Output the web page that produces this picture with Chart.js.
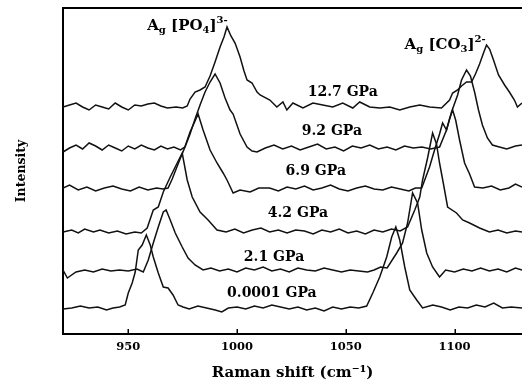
<!DOCTYPE html>
<html>
<head>
<meta charset="utf-8">
<script src="https://cdn.jsdelivr.net/npm/chart.js@4"></script>
<style>
  html, body { margin: 0; padding: 0; background: #fff; }
  canvas { display: block; }
</style>
</head>
<body>
<canvas id="c" width="522" height="383"></canvas>
<script>
// Raman spectra of the sample at increasing pressure, stacked upward.
// Each spectrum is a list of [Raman shift (cm^-1), stacked intensity (a.u.)].
const pressures = ['0.0001 GPa', '2.1 GPa', '4.2 GPa', '6.9 GPa', '9.2 GPa', '12.7 GPa'];
const xTicks = [950, 1000, 1050, 1100];

const spec0001 = [[920,25],[924,26],[928,28],[932,26],[936,27],[940,24],[943,26],[946,27],[948.6,29],[950,41],[951.8,51],[953.2,62],[954.6,84],[956.4,89],[958.3,99],[960.1,89],[961.5,77],[963.8,61],[966.1,47],[968.3,46],[970.6,39],[972.9,29],[975.2,27],[978,25],[982,28],[986,26],[990,24],[993,22],[996,26],[1000,27],[1004,25],[1008,28],[1012,26],[1016,29],[1020,27],[1024,25],[1028,27],[1032,24],[1036,26],[1040,23],[1044,27],[1048,25],[1052,27],[1056,26],[1059.6,28],[1062.4,41],[1065.6,57],[1068.8,77],[1071.1,97],[1073,107],[1074.8,94],[1077.1,67],[1079.4,44],[1082.6,34],[1085.3,26],[1090,29],[1094,27],[1098,24],[1102,27],[1106,26],[1110,29],[1114,27],[1118,31],[1122,26],[1126,27],[1131,26]];

const spec21 = [[920,64],[922,56],[926,62],[930,64],[934,62],[938,65],[942,63],[946,64],[950,63],[954,65],[956.9,62],[959.2,74],[961.5,91],[963.8,107],[966.1,122],[967.4,124],[969.3,114],[971.6,101],[974.8,87],[977.5,76],[980.7,69],[984.4,64],[988,66],[992,63],[996,65],[1000,62],[1004,66],[1008,64],[1012,67],[1016,63],[1020,65],[1024,62],[1028,66],[1032,64],[1036,63],[1040,66],[1044,64],[1048,62],[1052,64],[1056,63],[1060,62],[1063,64],[1066,67],[1069,66],[1073.4,81],[1076.1,91],[1078.4,111],[1080.7,141],[1083,131],[1084.9,104],[1087.2,81],[1089.9,67],[1093.1,57],[1095.9,64],[1100,62],[1104,65],[1108,63],[1112,66],[1116,63],[1120,65],[1124,62],[1128,66],[1131,64]];

const spec42 = [[920,102],[924,104],[927,101],[930,105],[934,102],[937,104],[941,101],[945,103],[949,100],[953,102],[956,101],[958.7,106],[961.5,124],[963.8,127],[966.1,142],[969.3,157],[972.5,171],[974.8,181],[977.1,154],[979.4,137],[983,122],[986.7,114],[990.8,104],[995,102],[999,105],[1003,101],[1007,104],[1011,106],[1015,102],[1019,104],[1023,101],[1027,104],[1031,103],[1035,100],[1039,104],[1043,102],[1047,105],[1051,101],[1055,103],[1059,100],[1063,104],[1067,102],[1071,105],[1075,103],[1078.4,107],[1081.7,124],[1084,137],[1085.3,154],[1087.6,176],[1089.9,201],[1091.7,190],[1093.1,171],[1094.9,150],[1096.8,127],[1100.9,121],[1103.7,114],[1106.9,111],[1111.5,106],[1116,102],[1120,104],[1124,101],[1128,103],[1131,102]];

const spec69 = [[920,146],[923,149],[927,144],[931,147],[935,143],[939,146],[943,148],[947,145],[951,143],[955,147],[959,144],[963,146],[966,145],[968.3,146],[970.2,155],[972.9,170],[975.7,185],[978.4,202],[980.7,213],[982.1,220],[984.4,204],[987.6,184],[990.8,171],[993.6,161],[995.4,154],[998.2,141],[1001.4,144],[1006,142],[1010,146],[1015,146],[1019,143],[1023,147],[1027,145],[1031,148],[1035,144],[1039,146],[1043,149],[1047,145],[1051,143],[1055,146],[1059,148],[1063,145],[1067,144],[1071,147],[1075,145],[1079,143],[1082,146],[1084.9,146],[1088.5,167],[1090.8,184],[1093.1,200],[1094.5,211],[1096.3,204],[1097.7,215],[1099.1,224],[1100.5,214],[1102.3,194],[1104.6,171],[1106.9,160],[1109.2,147],[1113,146],[1117,148],[1121,144],[1125,146],[1128,150],[1131,147]];

const spec92 = [[920,182],[923,186],[926,189],[929,185],[932,191],[935,188],[938,184],[941,189],[944,186],[947,183],[950,188],[953,185],[956,189],[959,186],[962,184],[965,188],[968,185],[971,187],[974,184],[976.1,187],[978.4,200],[980.7,215],[983,229],[985.3,242],[987.6,252],[989.9,260],[992.2,251],[994.5,236],[996.8,224],[998.2,220],[1001.4,200],[1004.6,187],[1006.9,183],[1009.2,182],[1013,186],[1017,189],[1021,185],[1025,188],[1029,184],[1033,187],[1037,190],[1041,185],[1045,187],[1049,183],[1053,188],[1057,186],[1061,189],[1065,185],[1069,187],[1073,184],[1077,188],[1081,186],[1085,187],[1089,185],[1093.1,187],[1096.3,204],[1098.6,222],[1101.4,239],[1103.2,254],[1105.5,264],[1107.3,258],[1109.2,242],[1111,224],[1112.8,209],[1115.1,196],[1117.4,189],[1120.6,187],[1124,185],[1128,188],[1131,189]];

const spec127 = [[920,227],[923,229],[926,231],[929,227],[932,224],[935,229],[938,227],[941,225],[944,231],[947,227],[950,224],[953,229],[956,228],[959,230],[962,231],[965,228],[968,226],[972,227],[975,226],[977.1,228],[978.4,235],[980.7,242],[983,244],[985.3,247],[987.6,258],[989.9,272],[992.2,287],[994,297],[995.4,307],[997.2,298],[999.1,291],[1001.4,277],[1003.2,263],[1004.6,254],[1006.9,251],[1009.2,242],[1010.6,239],[1015.1,234],[1018.3,227],[1021.1,232],[1022.9,224],[1025.7,231],[1030.3,226],[1034.9,231],[1039.4,229],[1044,227],[1048.6,231],[1053.2,226],[1056.4,232],[1061,227],[1065.6,226],[1070.2,227],[1074.8,224],[1079.4,227],[1084,229],[1088.5,227],[1094,226],[1097.7,234],[1099.1,241],[1101.4,244],[1103.2,248],[1105.5,252],[1107.8,252],[1109.6,260],[1111.5,270],[1113.3,281],[1114.7,289],[1116.1,285],[1117.9,274],[1120.2,259],[1123,249],[1125.2,242],[1127.5,234],[1128.9,227],[1131,231]];

const spectra = [spec0001, spec21, spec42, spec69, spec92, spec127];

// Where each pressure tag sits (data coordinates, text centre).
const pressureTagAt = [[1016,41],[1017,77],[1028,121],[1036.2,162.5],[1043.6,203],[1048.6,242]];

// Band assignments written above the two peaks (data coordinates, left baseline).
const bandTags = [
  { at: [958.7, 304], parts: [['A',15,0],['g',10,3],[' [PO',15,0],['4',10,3],[']',15,0],['3-',10,-7]] },
  { at: [1077, 285.5], parts: [['A',15,0],['g',10,3],[' [CO',15,0],['3',10,3],[']',15,0],['2-',10,-7]] }
];

const FONT = '"DejaVu Serif", "Liberation Serif", serif';

const decorPlugin = {
  id: 'decor',
  afterDraw(chart) {
    const { ctx, chartArea: a, scales: { x, y } } = chart;
    ctx.save();
    ctx.strokeStyle = '#000';
    // top edge of the frame
    ctx.lineWidth = 2;
    ctx.beginPath();
    ctx.moveTo(a.left - 1, a.top);
    ctx.lineTo(a.right, a.top);
    ctx.stroke();
    // inward tick marks on the shift axis
    ctx.lineWidth = 1.5;
    ctx.beginPath();
    x.ticks.forEach(t => {
      const px = Math.round(x.getPixelForValue(t.value)) + 0.25;
      ctx.moveTo(px, a.bottom);
      ctx.lineTo(px, a.bottom - 5);
    });
    ctx.stroke();

    ctx.fillStyle = '#000';
    // pressure tags
    ctx.font = 'bold 14px ' + FONT;
    ctx.textAlign = 'center';
    ctx.textBaseline = 'middle';
    pressures.forEach((p, i) => {
      const [vx, vy] = pressureTagAt[i];
      ctx.fillText(p, x.getPixelForValue(vx), y.getPixelForValue(vy));
    });
    // band tags with sub/superscripts
    ctx.textAlign = 'left';
    ctx.textBaseline = 'alphabetic';
    bandTags.forEach(tag => {
      let px = x.getPixelForValue(tag.at[0]);
      const py = y.getPixelForValue(tag.at[1]);
      tag.parts.forEach(([txt, size, dy]) => {
        ctx.font = 'bold ' + size + 'px ' + FONT;
        ctx.fillText(txt, px, py + dy);
        px += ctx.measureText(txt).width;
      });
    });
    ctx.restore();
  }
};

new Chart(document.getElementById('c'), {
  type: 'line',
  data: {
    datasets: spectra.map((s, i) => ({
      label: pressures[i],
      data: s,
      borderColor: '#111',
      borderWidth: 1.5,
      pointRadius: 0,
      tension: 0,
      fill: false
    }))
  },
  options: {
    responsive: false,
    animation: false,
    devicePixelRatio: 1,
    layout: { padding: { top: 8, left: 0, right: 0, bottom: 0 } },
    plugins: { legend: { display: false }, tooltip: { enabled: false } },
    scales: {
      x: {
        type: 'linear',
        min: 920,
        max: 1131,
        afterBuildTicks: scale => { scale.ticks = xTicks.map(v => ({ value: v })); },
        afterFit: scale => { scale.height = 49; },
        grid: { display: false, drawTicks: false },
        border: { display: true, color: '#000', width: 2 },
        ticks: { color: '#000', padding: 6, maxRotation: 0, callback: v => String(v),
                 font: { family: FONT, size: 11.5, weight: 'bold' } },
        title: { display: true, text: 'Raman shift (cm⁻¹)', color: '#000', padding: { top: 0, bottom: 1 },
                 font: { family: FONT, size: 15, weight: 'bold' } }
      },
      y: {
        type: 'linear',
        min: 0,
        max: 326,
        afterFit: scale => { scale.width = 63; },
        grid: { display: false, drawTicks: false },
        border: { display: true, color: '#000', width: 2 },
        ticks: { display: false },
        title: { display: true, text: 'Intensity', color: '#000', padding: { top: 14, bottom: 0 },
                 font: { family: FONT, size: 12.5, weight: 'bold' } }
      }
    }
  },
  plugins: [decorPlugin]
});
</script>
</body>
</html>
